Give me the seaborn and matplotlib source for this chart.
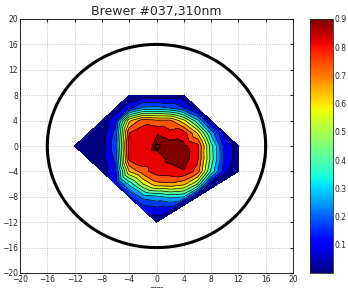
import numpy as np
import matplotlib
matplotlib.use("Agg")
import matplotlib.pyplot as plt
import matplotlib.tri as mtri
import seaborn as sns

# measurement grid (mm) and normalised signal, NaN = not measured
x_mm = [-12, -10, -8, -6, -4, -2, 0, 2, 4, 6, 8, 10, 12]
y_mm = [8, 6, 4, 2, 0, -2, -4, -6, -8, -10, -12]
nan = np.nan
signal = [
    [nan, nan, nan, nan, 0.02, 0.03, 0.02, 0.025, 0.02, nan, nan, nan, nan],
    [nan, nan, nan, 0.03, 0.12, 0.24, 0.25, 0.22, 0.15, 0.03, nan, nan, nan],
    [nan, nan, 0.03, 0.12, 0.58, 0.72, 0.69, 0.69, 0.55, 0.32, 0.04, nan, nan],
    [nan, 0.02, 0.03, 0.18, 0.75, 0.79, 0.82, 0.77, 0.79, 0.60, 0.28, 0.06, nan],
    [0.02, 0.025, 0.03, 0.20, 0.79, 0.79, 0.84, 0.87, 0.84, 0.78, 0.41, 0.12, 0.04],
    [nan, 0.02, 0.04, 0.17, 0.77, 0.80, 0.80, 0.84, 0.86, 0.77, 0.42, 0.13, 0.04],
    [nan, nan, 0.04, 0.13, 0.60, 0.72, 0.79, 0.80, 0.82, 0.72, 0.36, 0.10, 0.015],
    [nan, nan, nan, 0.10, 0.32, 0.52, 0.65, 0.66, 0.62, 0.45, 0.05, nan, nan],
    [nan, nan, nan, nan, 0.14, 0.25, 0.28, 0.32, 0.30, 0.03, nan, nan, nan],
    [nan, nan, nan, nan, nan, 0.10, 0.12, 0.10, nan, nan, nan, nan, nan],
    [nan, nan, nan, nan, nan, nan, 0.03, nan, nan, nan, nan, nan, nan],
]
ring_radius = 16
cbar_ticks = [0.1, 0.2, 0.3, 0.4, 0.5, 0.6, 0.7, 0.8, 0.9]

sns.set_style("white")
plt.rcParams["font.family"] = ["DejaVu Sans"]

X, Y = np.meshgrid(x_mm, y_mm)
Z = np.array(signal)
ok = ~np.isnan(Z)
tri = mtri.Triangulation(X[ok], Y[ok])

levels = np.r_[0.01, np.arange(1, 13) * 0.075]
band_colors = plt.get_cmap("jet")(np.linspace(0, 1, 12))

fig = plt.figure(figsize=(3.48, 2.88), dpi=100)
ax = fig.add_axes([20 / 348, 15 / 288, 273 / 348, 254 / 288])
cax = fig.add_axes([310 / 348, 15 / 288, 23 / 348, 254 / 288])

ax.tricontourf(tri, Z[ok], levels=levels, colors=band_colors)
ax.tricontour(tri, Z[ok], levels=levels[1:-1], colors="k", linewidths=0.5)

theta = np.linspace(0, 2 * np.pi, 361)
sns.lineplot(x=ring_radius * np.cos(theta), y=ring_radius * np.sin(theta),
             sort=False, estimator=None, color="k", lw=2.2, ax=ax)
ax.plot([0], [0], "o", ms=3.5, mfc="none", mec="k", mew=1)

ax.set_xlim(-20, 20)
ax.set_ylim(-20, 20)
ax.set_xticks(range(-20, 21, 4))
ax.set_yticks(range(-20, 21, 4))
ax.set_axisbelow(True)
ax.grid(True, ls=":", color="#b8b8b8", lw=0.6)
ax.tick_params(direction="in", length=2, labelsize=5.5, top=True, right=True, pad=1.5)
for s in ax.spines.values():
    s.set_color("k")
    s.set_linewidth(0.6)
ax.set_title("Brewer #037,310nm", fontsize=9, pad=3)
ax.set_xlabel("mm", fontsize=5.5, labelpad=1)
ax.set_ylabel("mm", fontsize=5.5, labelpad=1)

sm = plt.cm.ScalarMappable(norm=plt.Normalize(0, 0.9), cmap="jet")
cb = fig.colorbar(sm, cax=cax)
cb.set_ticks(cbar_ticks)
cax.tick_params(direction="in", length=2, labelsize=5.5, pad=1)
cb.outline.set_linewidth(0.6)

fig.savefig("out.png", dpi=100)
